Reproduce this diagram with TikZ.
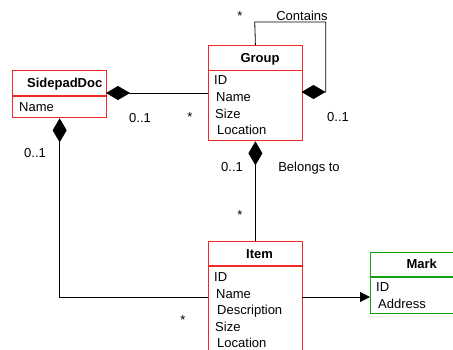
\documentclass[tikz,border=0pt]{standalone}
\usepackage{fontspec}
\setmainfont{Liberation Sans}
\usetikzlibrary{arrows.meta}
\definecolor{boxred}{RGB}{240,40,40}
\definecolor{boxgreen}{RGB}{20,160,20}
\begin{document}
\begin{tikzpicture}[x=1bp,y=-1bp,
  every node/.style={font=\fontsize{13bp}{16bp}\selectfont, inner sep=0pt},
  classbox/.style={draw, line width=1.3bp, anchor=north west, minimum width=#1, inner sep=0pt},
  redbox/.style={classbox=93.5bp, draw=boxred},
  title/.style={anchor=base, font=\fontsize{13bp}{16bp}\selectfont\bfseries},
  attr/.style={anchor=base west},
  lbl/.style={anchor=base},
  conn/.style={line width=0.8bp, black},
  comp/.style={conn, {Diamond[length=24bp,width=14bp]}-},
  assoc/.style={conn, -{Triangle[length=10bp,width=10bp]}}
]
\useasboundingbox (0,0) rectangle (453,349);
\clip (0,0) rectangle (453,349);

% boxes
\node[classbox=94bp, draw=boxred, minimum height=47bp] (sd) at (12,70) {};
\node[redbox, minimum height=95bp] (grp) at (208,45) {};
\node[redbox, minimum height=120bp] (itm) at (208,241) {};
\node[classbox=104bp, draw=boxgreen, minimum height=61bp] (mrk) at (370,252) {};

% dividers
\draw[boxred, line width=1.3bp] (12,96) -- (106,96);
\draw[boxred, line width=1.3bp] (208,70.5) -- (301.5,70.5);
\draw[boxred, line width=1.3bp] (208,266) -- (301.5,266);
\draw[boxgreen, line width=1.3bp] (370,277) -- (474,277);

% titles
\node[title] (sdt) at (64.7,87.7) {SidepadDoc};
\node[title] (grpt) at (260,62) {Group};
\node[title] (itmt) at (259.5,258) {Item};
\node[title] (mrkt) at (421.7,268) {Mark};

% attributes
\node[attr] (sd1) at (19,111.7) {Name};
\node[attr] (g1) at (214,84.7) {ID};
\node[attr] (g2) at (216,101.5) {Name};
\node[attr] (g3) at (215,118) {Size};
\node[attr] (g4) at (217,134.7) {Location};
\node[attr] (i1) at (214,281) {ID};
\node[attr] (i2) at (216,298) {Name};
\node[attr] (i3) at (217,314) {Description};
\node[attr] (i4) at (215,331) {Size};
\node[attr] (i5) at (217,347) {Location};
\node[attr] (m1) at (376,291) {ID};
\node[attr] (m2) at (378,308) {Address};

% connector coordinates
\coordinate (sdr) at (106,93);
\coordinate (grl) at (208,93);
\coordinate (gre) at (301.5,92);
\coordinate (loopa) at (325.7,92);
\coordinate (loopb) at (325.7,22);
\coordinate (loopc) at (254.75,22);
\coordinate (itl) at (208,297);
\coordinate (itr) at (301.5,297);
\coordinate (mkl) at (370,297);

% connectors
\draw[comp] (sdr) -- (grl);
\draw[comp] (sd.south) |- (itl);
\draw[comp] (gre) -- (loopa) -- (loopb) -- (loopc) -- (grp.north);
\draw[comp] (grp.south) -- (itm.north);
\draw[assoc] (itr) -- (mkl);

% labels
\node[lbl] (l1) at (140,122.7) {0..1};
\node[lbl] (l2) at (190,121) {*};
\node[lbl] (l3) at (302,20.5) {Contains};
\node[lbl] (l4) at (240,20) {*};
\node[lbl] (l5) at (338,121.5) {0..1};
\node[lbl] (l6) at (232,171.5) {0..1};
\node[lbl] (l7) at (309,171.5) {Belongs to};
\node[lbl] (l8) at (240,219) {*};
\node[lbl] (l9) at (35,157) {0..1};
\node[lbl] (l10) at (183,324) {*};
\end{tikzpicture}
\end{document}
